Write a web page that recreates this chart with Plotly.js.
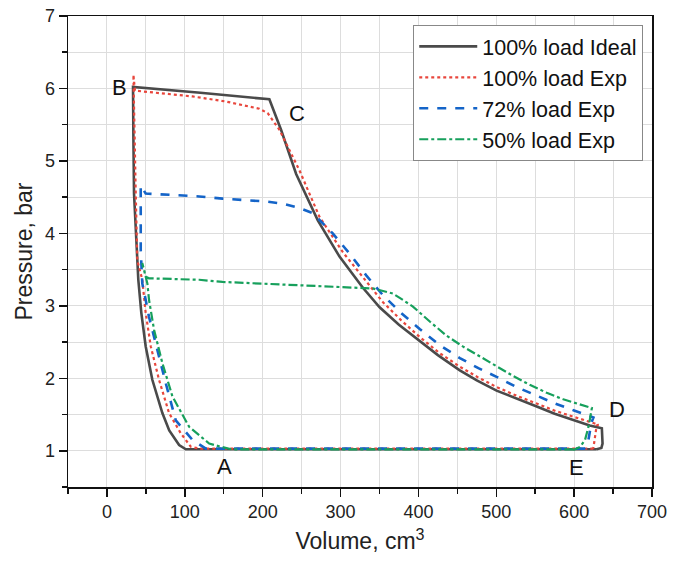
<!DOCTYPE html>
<html>
<head>
<meta charset="utf-8">
<script src="https://cdn.plot.ly/plotly-3.0.1.min.js"></script>
<style>html,body{margin:0;padding:0;background:#fff;}#chart{width:683px;height:564px;}</style>
</head>
<body>
<div id="chart"></div>
<script>
// Series names
const seriesNames = ["100% load Ideal", "100% load Exp", "72% load Exp", "50% load Exp"];

// 100% load Ideal (volume cm3, pressure bar)
const idealV = [629, 450, 300, 150, 101.3, 92.7, 80, 71.2, 58.3, 49.8, 44.2, 40.3, 37.5, 34.8, 34, 33.5, 120, 208.6, 223.6, 243, 270.8, 298.7, 328.7, 350.2, 375, 401.7, 425, 453.2, 475, 500.4, 525, 552, 575, 599, 620, 635.6, 636.5, 635, 629];
const idealP = [1.02, 1.02, 1.02, 1.02, 1.02, 1.08, 1.28, 1.52, 1.98, 2.44, 2.90, 3.36, 3.90, 4.55, 5.30, 6.02, 5.94, 5.85, 5.43, 4.82, 4.18, 3.68, 3.25, 2.98, 2.74, 2.52, 2.32, 2.11, 1.97, 1.83, 1.72, 1.61, 1.51, 1.42, 1.35, 1.31, 1.10, 1.04, 1.02];

// 100% load Exp
const exp100V = [624.6, 450, 300, 150, 118.5, 107.8, 94.9, 79.8, 66.9, 56.3, 49.8, 45.4, 39, 37, 35.5, 34, 36, 70, 109.8, 152.8, 195.7, 206.4, 212, 221.5, 247.2, 272.9, 303, 333, 354.5, 378, 401.7, 427, 453.2, 477, 500.4, 526, 552, 576, 599, 631.3, 629, 627, 624.6];
const exp100P = [1.03, 1.03, 1.03, 1.03, 1.03, 1.055, 1.24, 1.52, 1.98, 2.44, 2.90, 3.36, 3.63, 4.55, 5.50, 6.19, 5.97, 5.93, 5.89, 5.82, 5.72, 5.66, 5.58, 5.43, 4.87, 4.23, 3.74, 3.33, 3.05, 2.80, 2.57, 2.35, 2.16, 2.01, 1.88, 1.76, 1.65, 1.55, 1.47, 1.36, 1.35, 1.19, 1.03];

// 72% load Exp
const exp72V = [614, 450, 300, 150, 127, 109.8, 88.4, 75.6, 64.8, 54, 49.8, 45.4, 43.4, 43.4, 43.4, 49.8, 118.4, 148.5, 204.3, 225.7, 247.2, 264.3, 290, 311.6, 333, 355, 378, 401.7, 427, 453.2, 477, 500.4, 526, 552, 576, 599, 624.8, 622, 620.6, 618.4, 614];
const exp72P = [1.03, 1.03, 1.03, 1.03, 1.03, 1.15, 1.42, 1.93, 2.39, 2.85, 3.08, 3.31, 3.77, 4.09, 4.66, 4.55, 4.51, 4.48, 4.44, 4.41, 4.35, 4.28, 4.00, 3.72, 3.42, 3.14, 2.90, 2.68, 2.46, 2.28, 2.14, 2.02, 1.88, 1.76, 1.65, 1.56, 1.46, 1.38, 1.29, 1.15, 1.03];

// 50% load Exp
const exp50V = [599, 450, 300, 160, 146.4, 131.3, 105.6, 84.1, 71.2, 60.5, 54.1, 51.9, 45.4, 50, 54, 118.4, 148.5, 247.2, 298.7, 341.6, 367.3, 376, 393, 415, 436, 457, 479, 500, 522, 543, 564.8, 586, 607.7, 622.8, 620.5, 618.4, 614, 607.7, 599];
const exp50P = [1.02, 1.02, 1.02, 1.02, 1.055, 1.10, 1.33, 1.75, 2.21, 2.67, 3.08, 3.31, 3.59, 3.40, 3.38, 3.36, 3.33, 3.29, 3.26, 3.24, 3.17, 3.11, 2.99, 2.78, 2.59, 2.44, 2.30, 2.16, 2.03, 1.91, 1.80, 1.71, 1.64, 1.59, 1.45, 1.33, 1.15, 1.055, 1.01];

// Point labels
const labelText = ["A", "B", "C", "D", "E"];
const labelV = [151, 16, 244, 655, 603];
const labelP = [0.78, 6.02, 5.66, 1.57, 0.77];

const FONT = "Liberation Sans, Arial, sans-serif";

const traces = [
  {x: idealV, y: idealP, name: seriesNames[0], mode: "lines",
   line: {color: "#4a4a4a", width: 2.6, dash: "solid"}},
  {x: exp100V, y: exp100P, name: seriesNames[1], mode: "lines",
   line: {color: "#e8463c", width: 2.2, dash: "dot"}},
  {x: exp72V, y: exp72P, name: seriesNames[2], mode: "lines",
   line: {color: "#1464c8", width: 2.6, dash: "dash"}},
  {x: exp50V, y: exp50P, name: seriesNames[3], mode: "lines",
   line: {color: "#17a05c", width: 2.2, dash: "dashdot"}}
];

const annotations = labelText.map((t, i) => ({
  x: labelV[i], y: labelP[i], xref: "x", yref: "y", text: t, showarrow: false,
  font: {family: FONT, size: 22, color: "#111"}
}));

const gridCol = "#dddddd";
const layout = {
  width: 683, height: 564,
  margin: {l: 68, r: 31, t: 16, b: 77},
  paper_bgcolor: "#ffffff", plot_bgcolor: "#ffffff",
  font: {family: FONT, color: "#222"},
  showlegend: true,
  legend: {
    x: 0.985, y: 0.981, xanchor: "right", yanchor: "top",
    bgcolor: "#ffffff", bordercolor: "#888888", borderwidth: 1,
    itemwidth: 58,
    font: {family: FONT, size: 21.5, color: "#111"}
  },
  xaxis: {
    range: [-50, 700], tick0: 0, dtick: 100,
    ticks: "outside", ticklen: 8, tickwidth: 1.5, tickcolor: "#111",
    showline: true, linecolor: "#111", linewidth: 1.5, mirror: true,
    showgrid: true, gridcolor: gridCol, gridwidth: 1, zeroline: false,
    tickfont: {family: FONT, size: 18, color: "#222"},
    minor: {dtick: 50, ticks: "outside", ticklen: 5, tickwidth: 1.5, tickcolor: "#111", showgrid: true, gridcolor: gridCol, gridwidth: 1},
    title: {text: "Volume, cm<sup>3</sup>", font: {family: FONT, size: 23, color: "#222"}, standoff: 12}
  },
  yaxis: {
    range: [0.5, 7], tick0: 0, dtick: 1,
    ticks: "outside", ticklen: 8, tickwidth: 1.5, tickcolor: "#111",
    showline: true, linecolor: "#111", linewidth: 1.5, mirror: true,
    showgrid: true, gridcolor: gridCol, gridwidth: 1, zeroline: false,
    tickfont: {family: FONT, size: 18, color: "#222"},
    minor: {dtick: 0.5, ticks: "outside", ticklen: 5, tickwidth: 1.5, tickcolor: "#111", showgrid: true, gridcolor: gridCol, gridwidth: 1},
    title: {text: "Pressure, bar", font: {family: FONT, size: 23, color: "#222"}, standoff: 6}
  },
  annotations: annotations
};

Plotly.newPlot("chart", traces, layout, {displayModeBar: false, staticPlot: true});
</script>
</body>
</html>
